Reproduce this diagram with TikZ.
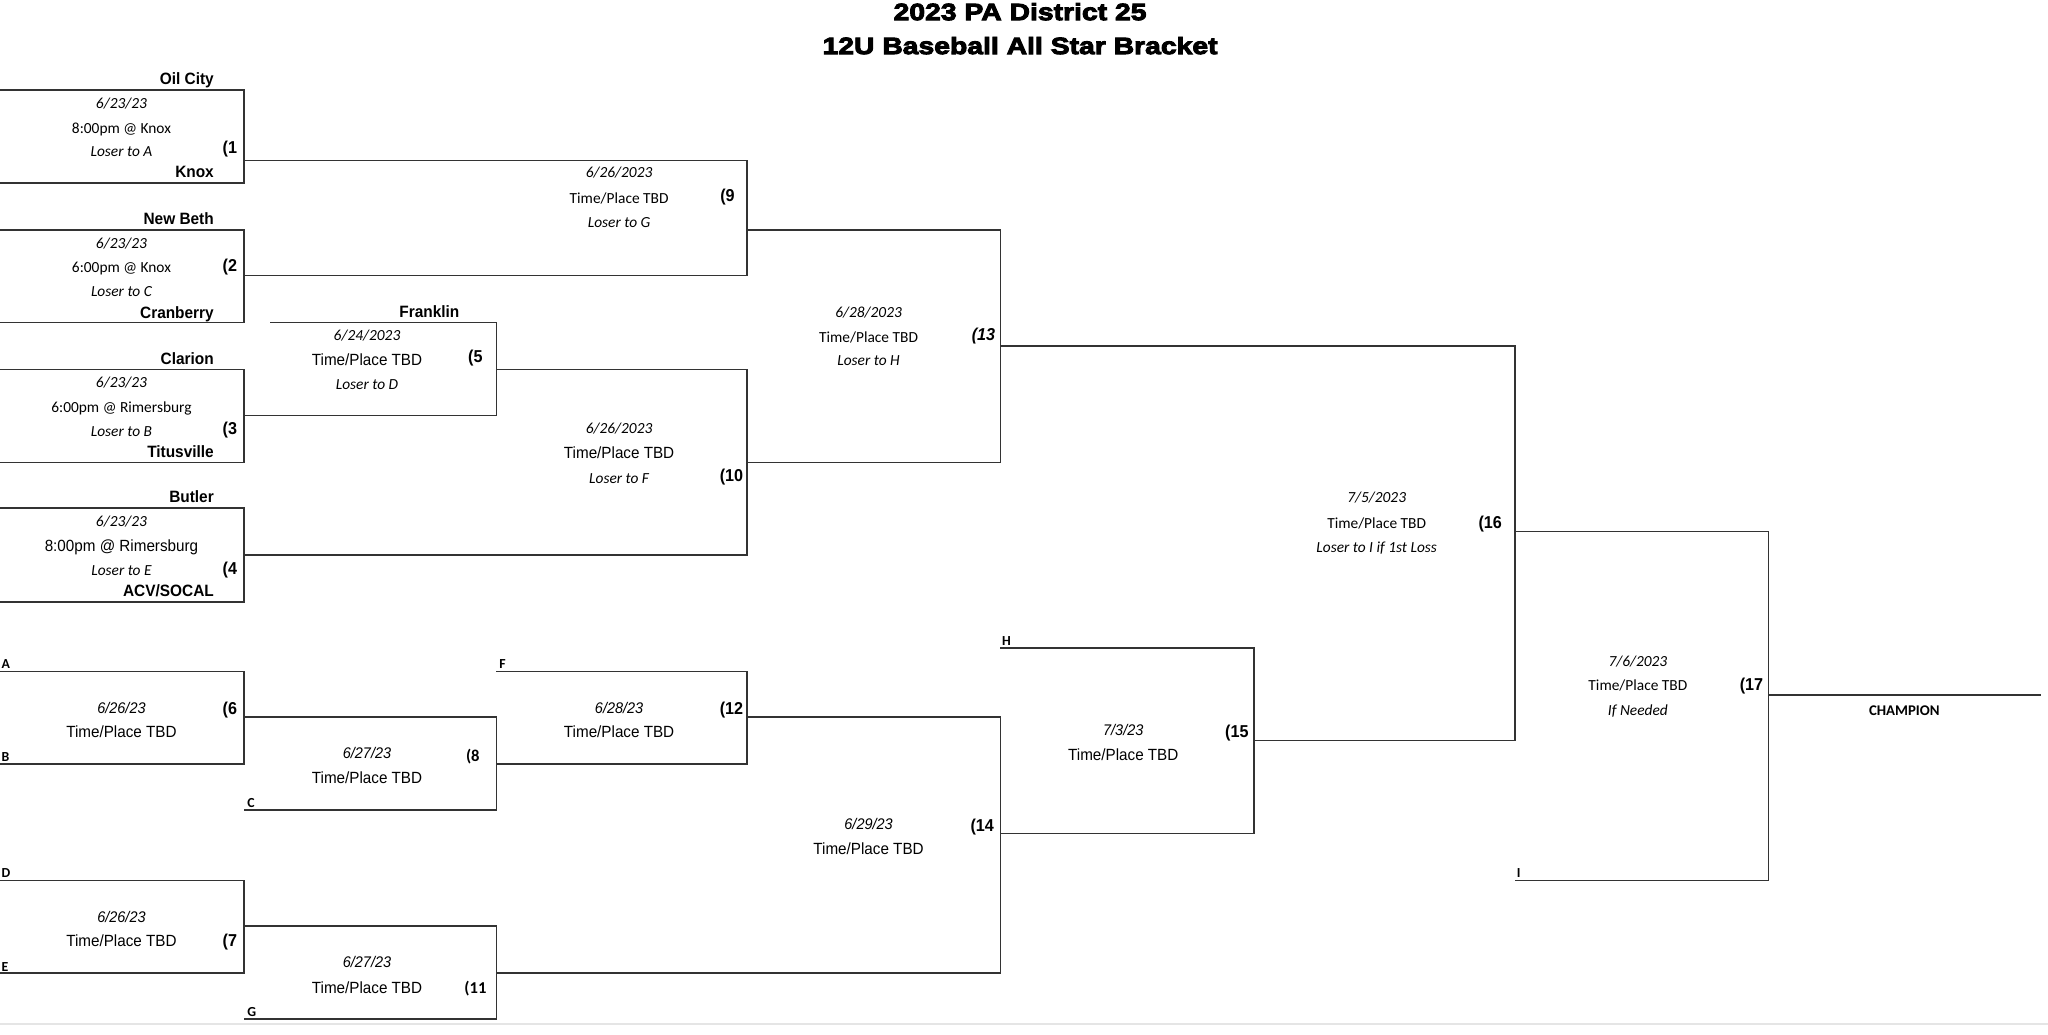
\documentclass[tikz,border=0pt]{standalone}
\usepackage{graphicx}
\usepackage{fontspec}
\setmainfont{Carlito}
\newfontfamily\arial[FakeStretch=0.94]{Liberation Sans}
\newfontfamily\titlef[FakeBold=4,FakeStretch=1.2]{Liberation Sans Bold}
\begin{document}
\begin{tikzpicture}[x=0.6531pt,y=-0.6531pt,
  ln/.style={line width=0.8pt, draw=black!80},
  base/.style={inner sep=0pt, text height=0.72em, text depth=0.2em, yshift=-0.6pt},
  team/.style={base, anchor=east, font=\arial\bfseries\fontsize{8.2}{9}\selectfont},
  cdate/.style={base, font=\itshape\fontsize{7.7}{9}\selectfont},
  ctxt/.style={base, font=\fontsize{7.7}{9}\selectfont},
  atxt/.style={base, font=\arial\fontsize{8.1}{9}\selectfont},
  adate/.style={base, font=\arial\itshape\fontsize{7.7}{9}\selectfont},
  gnum/.style={base, font=\arial\bfseries\fontsize{8.6}{9}\selectfont},
  inum/.style={base, font=\arial\bfseries\itshape\fontsize{8.6}{9}\selectfont},
  cnum/.style={base, font=\bfseries\fontsize{8.3}{9}\selectfont},
  slot/.style={base, anchor=west, font=\bfseries\fontsize{6.9}{7}\selectfont},
  ttl/.style={base, font=\titlef\fontsize{11.8}{13}\selectfont}
]
\useasboundingbox[fill=white] (0,0) rectangle (1568,792);

% titles
\node[ttl] (title1) at (781,10.5) {2023 PA District 25};
\node[ttl] (title2) at (781,36.5) {12U Baseball All Star Bracket};

% bracket lines - winners side
\draw[ln] (0,69) -| (187,140) -- (0,140);      % game 1
\draw[ln] (0,176) -| (187,247) -- (0,247);     % game 2
\draw[ln] (0,283) -| (187,354) -- (0,354);     % game 3
\draw[ln] (0,389) -| (187,461) -- (0,461);     % game 4
\draw[ln] (207,247) -| (380,318) -- (187,318); % game 5
\draw[ln] (187,123) -| (572,211) -- (187,211); % game 9
\draw[ln] (380,283) -| (572,425) -- (187,425); % game 10
\draw[ln] (572,176) -| (766,354) -- (572,354); % game 13
\draw[ln] (766,265) -| (1160,567) -- (960,567);% game 16
\draw[ln] (1160,407) -| (1354,674) -- (1160,674);% game 17
\draw[ln] (1354,532) -- (1563,532);            % champion

% losers side
\draw[ln] (0,514) -| (187,585) -- (0,585);     % game 6
\draw[ln] (0,674) -| (187,745) -- (0,745);     % game 7
\draw[ln] (187,549) -| (380,620) -- (187,620); % game 8
\draw[ln] (187,709) -| (380,780) -- (187,780); % game 11
\draw[ln] (380,514) -| (572,585) -- (380,585); % game 12
\draw[ln] (572,549) -| (766,745) -- (380,745); % game 14
\draw[ln] (766,496) -| (960,638) -- (766,638); % game 15

\draw[black!10, line width=0.8pt] (0,784) -- (1568,784);

% game 1
\node[team] (g1a) at (164,60) {Oil City};
\node[cdate] (g1d) at (93,78) {6/23/23};
\node[ctxt] (g1t) at (93,97) {8:00pm @ Knox};
\node[cdate] (g1l) at (93,115) {Loser to A};
\node[gnum] (g1n) at (176,113) {(1};
\node[team] (g1b) at (164,131) {Knox};
% game 2
\node[team] (g2a) at (164,167) {New Beth};
\node[cdate] (g2d) at (93,185) {6/23/23};
\node[ctxt] (g2t) at (93,204) {6:00pm @ Knox};
\node[cdate] (g2l) at (93,222) {Loser to C};
\node[gnum] (g2n) at (176,203) {(2};
\node[team] (g2b) at (164,239) {Cranberry};
% game 3
\node[team] (g3a) at (164,274) {Clarion};
\node[cdate] (g3d) at (93,292) {6/23/23};
\node[ctxt] (g3t) at (93,311) {6:00pm @ Rimersburg};
\node[cdate] (g3l) at (93,329) {Loser to B};
\node[gnum] (g3n) at (176,328) {(3};
\node[team] (g3b) at (164,345) {Titusville};
% game 4
\node[team] (g4a) at (164,380) {Butler};
\node[cdate] (g4d) at (93,398) {6/23/23};
\node[atxt] (g4t) at (93,417) {8:00pm @ Rimersburg};
\node[cdate] (g4l) at (93,436) {Loser to E};
\node[gnum] (g4n) at (176,435) {(4};
\node[team] (g4b) at (164,452) {ACV/SOCAL};
% game 5
\node[team] (g5a) at (352,238) {Franklin};
\node[cdate] (g5d) at (281,256) {6/24/2023};
\node[atxt] (g5t) at (281,275) {Time/Place TBD};
\node[cdate] (g5l) at (281,293) {Loser to D};
\node[gnum] (g5n) at (364,273) {(5};
% game 9
\node[cdate] (g9d) at (474,131) {6/26/2023};
\node[ctxt] (g9t) at (474,151) {Time/Place TBD};
\node[cdate] (g9l) at (474,169) {Loser to G};
\node[gnum] (g9n) at (557,149) {(9};
% game 10
\node[cdate] (g10d) at (474,327) {6/26/2023};
\node[atxt] (g10t) at (474,346) {Time/Place TBD};
\node[cdate] (g10l) at (474,365) {Loser to F};
\node[gnum] (g10n) at (560,364) {(10};
% game 13
\node[cdate] (g13d) at (665,238) {6/28/2023};
\node[ctxt] (g13t) at (665,257) {Time/Place TBD};
\node[cdate] (g13l) at (665,275) {Loser to H};
\node[inum] (g13n) at (753,256) {(13};
% game 16
\node[cdate] (g16d) at (1054,380) {7/5/2023};
\node[ctxt] (g16t) at (1054,400) {Time/Place TBD};
\node[cdate] (g16l) at (1054,418) {Loser to I if 1st Loss};
\node[gnum] (g16n) at (1141,400) {(16};
% game 17
\node[cdate] (g17d) at (1254,505) {7/6/2023};
\node[ctxt] (g17t) at (1254,524) {Time/Place TBD};
\node[cdate] (g17l) at (1254,543) {If Needed};
\node[gnum] (g17n) at (1341,524) {(17};
\node[base, font=\bfseries\fontsize{7.4}{9}\selectfont] (champ) at (1458,543) {CHAMPION};

% slot labels
\node[slot] (sA) at (1,507) {A};
\node[slot] (sB) at (1,578) {B};
\node[slot] (sC) at (189,613) {C};
\node[slot] (sD) at (1,667) {D};
\node[slot] (sE) at (1,739) {E};
\node[slot] (sF) at (382,507) {F};
\node[slot] (sG) at (189,773) {G};
\node[slot] (sH) at (767,489) {H};
\node[slot] (sI) at (1161,667) {I};

% game 6
\node[adate] (g6d) at (93,541) {6/26/23};
\node[atxt] (g6t) at (93,560) {Time/Place TBD};
\node[gnum] (g6n) at (176,542) {(6};
% game 7
\node[adate] (g7d) at (93,701) {6/26/23};
\node[atxt] (g7t) at (93,720) {Time/Place TBD};
\node[gnum] (g7n) at (176,720) {(7};
% game 8
\node[adate] (g8d) at (281,576) {6/27/23};
\node[atxt] (g8t) at (281,595) {Time/Place TBD};
\node[cnum] (g8n) at (362,578) {(8};
% game 11
\node[adate] (g11d) at (281,736) {6/27/23};
\node[atxt] (g11t) at (281,756) {Time/Place TBD};
\node[cnum] (g11n) at (364,756) {(11};
% game 12
\node[adate] (g12d) at (474,541) {6/28/23};
\node[atxt] (g12t) at (474,560) {Time/Place TBD};
\node[gnum] (g12n) at (560,542) {(12};
% game 14
\node[adate] (g14d) at (665,630) {6/29/23};
\node[atxt] (g14t) at (665,649) {Time/Place TBD};
\node[gnum] (g14n) at (752,632) {(14};
% game 15
\node[adate] (g15d) at (860,558) {7/3/23};
\node[atxt] (g15t) at (860,577) {Time/Place TBD};
\node[gnum] (g15n) at (947,560) {(15};
\end{tikzpicture}
\end{document}
